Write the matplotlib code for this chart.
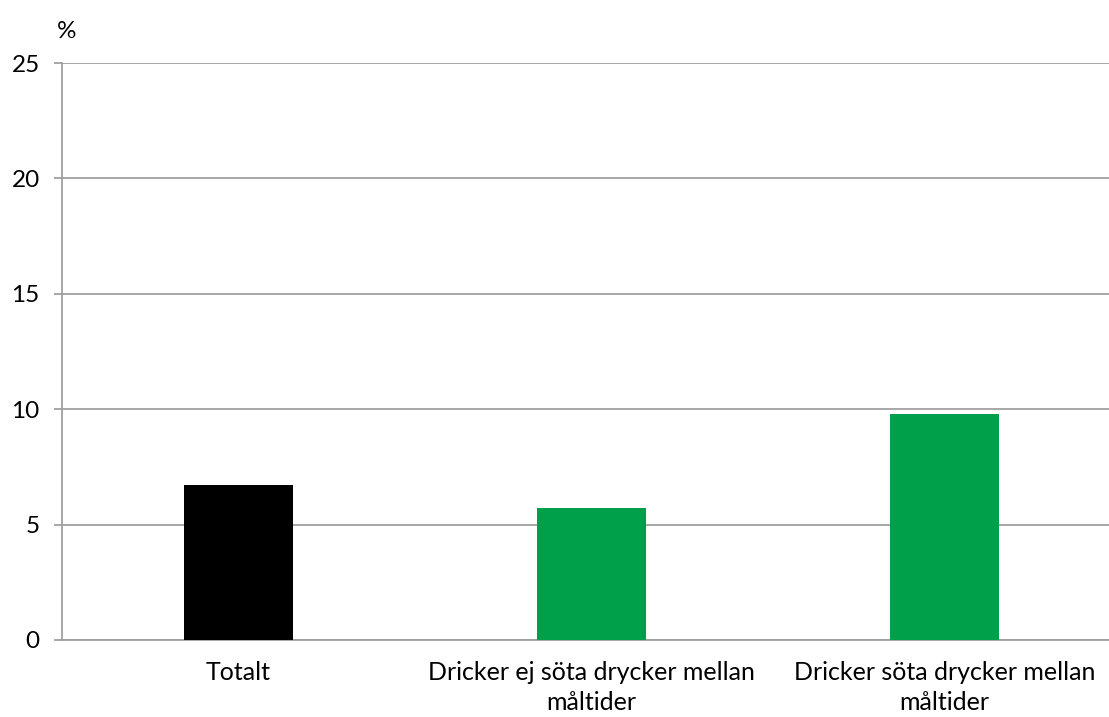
import matplotlib
matplotlib.use("Agg")
import matplotlib.pyplot as plt

categories = ["Totalt",
              "Dricker ej söta drycker mellan\nmåltider",
              "Dricker söta drycker mellan\nmåltider"]
values = [6.7, 5.7, 9.8]
colors = ["#000000", "#00A04A", "#00A04A"]
yticks = [0, 5, 10, 15, 20, 25]

plt.rcParams['font.family'] = ['Lato', 'DejaVu Sans']

W, H = 1109, 717
fig = plt.figure(figsize=(W / 100, H / 100), dpi=100)
# plot area runs past the right edge of the figure
left, right, top, bottom = 62, 1121, 63, 640
ax = fig.add_axes([left / W, (H - bottom) / H, (right - left) / W, (bottom - top) / H])

x = range(len(categories))
ax.bar(x, values, width=0.31, color=colors, zorder=3)

ax.set_xlim(-0.5, len(categories) - 0.5)
ax.set_ylim(0, 25)
ax.set_yticks(yticks)
ax.set_yticklabels([str(t) for t in yticks], fontsize=17.5)
ax.set_xticks(list(x))
ax.set_xticklabels(categories, fontsize=18, linespacing=1.4)

grid = "#A0A0A0"
ax.yaxis.grid(True, color=grid, linewidth=1.3, zorder=0)
for s in ["top", "right"]:
    ax.spines[s].set_visible(False)
ax.spines["left"].set_color(grid)
ax.spines["left"].set_linewidth(1.3)
ax.spines["bottom"].set_color(grid)
ax.spines["bottom"].set_linewidth(1.3)
ax.tick_params(axis="y", length=6, width=1.3, color=grid, pad=10)
ax.tick_params(axis="x", length=0, pad=15)

fig.text(57 / W, 1 - 31 / H, "%", fontsize=17.5, va="center", ha="left")

fig.savefig("out.png", dpi=100)
